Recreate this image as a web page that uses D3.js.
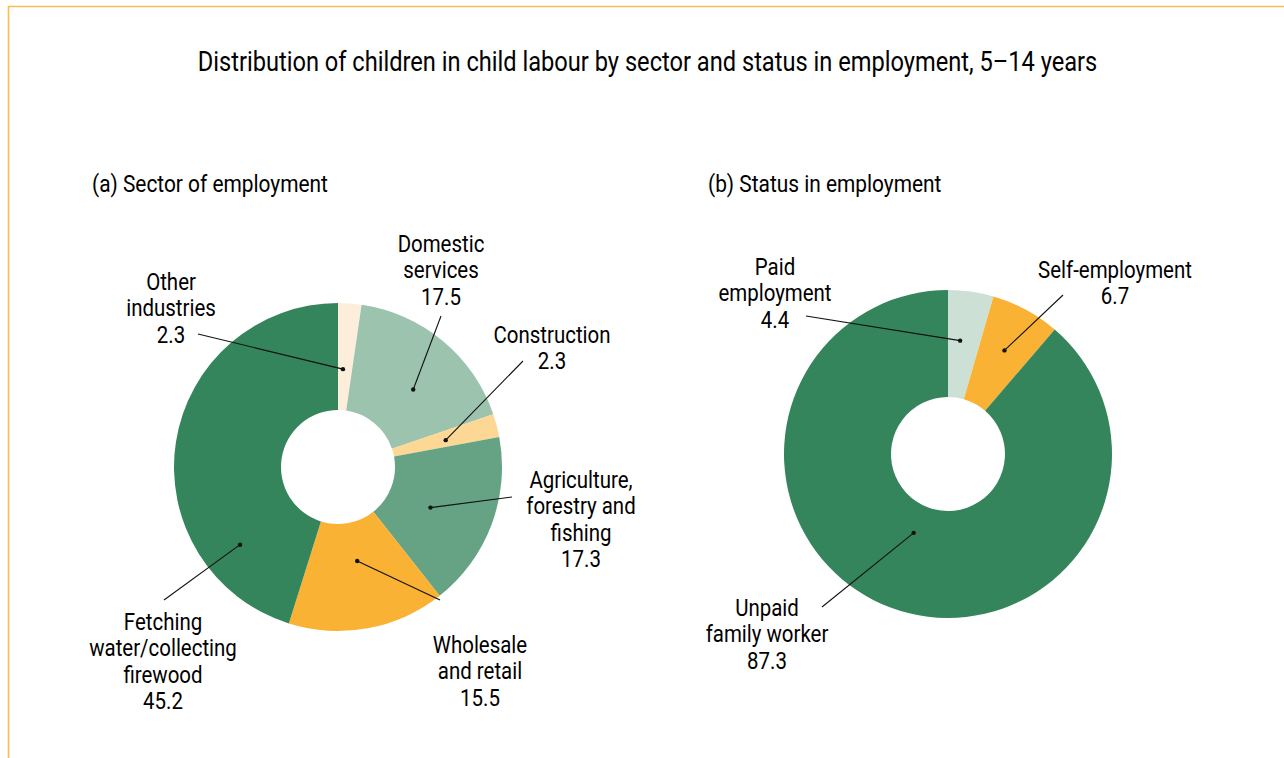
<!DOCTYPE html>
<html>
<head>
<meta charset="utf-8">
<script src="https://cdn.jsdelivr.net/npm/d3@7"></script>
<style>
  html, body { margin: 0; padding: 0; background: #fff; }
  svg { display: block; }
  text { font-family: Roboto, "Noto Sans", sans-serif; fill: #000; }
</style>
</head>
<body>
<svg id="chart" width="1284" height="758"></svg>
<script>
// ---- data -------------------------------------------------------------
const title = "Distribution of children in child labour by sector and status in employment, 5\u201314 years";

const sectorTitle = "(a) Sector of employment";
const sectorNames = [
  ["Other", "industries"],
  ["Domestic", "services"],
  ["Construction"],
  ["Agriculture,", "forestry and", "fishing"],
  ["Wholesale", "and retail"],
  ["Fetching", "water/collecting", "firewood"]
];
const sectorValues = [2.3, 17.5, 2.3, 17.3, 15.5, 45.2];
const sectorColors = ["#fdeedb", "#9cc3ae", "#fdd895", "#65a384", "#f9b233", "#35855c"];

const statusTitle = "(b) Status in employment";
const statusNames = [
  ["Paid", "employment"],
  ["Self-employment"],
  ["Unpaid", "family worker"]
];
const statusValues = [4.4, 6.7, 87.3];
const statusColors = ["#cde0d5", "#f9b233", "#35855c"];

// ---- layout -----------------------------------------------------------
const W = 1284, H = 758;
const SX = 0.87;          // horizontal squeeze to get a condensed face
const LINE = 26.4;        // label line spacing

// leader-line anchors: dot = [share of slice angle, radius];
// text = [centre x, first baseline y], from = start of the leader line
const sectorLayout = [
  { dot: [0.35, 98],  text: [171, 290], from: [198, 334] },
  { dot: [0.57, 108], text: [441, 252], from: [441, 316] },
  { dot: [0.58, 111], text: [552, 343], from: [523, 361] },
  { dot: [0.55, 101], text: [581, 488], from: [512, 497] },
  { dot: [0.48, 96],  text: [480, 653], from: [440, 600] },
  { dot: [0.21, 125], text: [163, 630], from: [164, 600] }
];
const statusLayout = [
  { dot: [0.38, 114], text: [775, 275], from: [806, 316] },
  { dot: [0.51, 118], text: [1115, 278], from: [1063, 295] },
  { dot: [0.51, 86],  text: [767, 616], from: [822, 607] }
];

const svg = d3.select("#chart");

// frame
svg.append("path")
  .attr("d", `M8.5,${H} V6.5 H${W}`)
  .attr("fill", "none")
  .attr("stroke", "#f9b233")
  .attr("stroke-opacity", 0.85)
  .attr("stroke-width", 1.6);

function condensedText(parent, x, y, lines, size, anchor, sx = SX) {
  const g = parent.append("g").attr("transform", `translate(${x},${y}) scale(${sx},1)`);
  const t = g.append("text")
    .attr("text-anchor", anchor)
    .style("font-size", size + "px");
  lines.forEach((s, i) => {
    t.append("tspan").attr("x", 0).attr("y", i * LINE).text(s);
  });
  return t;
}

// title and panel headings
condensedText(svg, 647.5, 71, [title], 27.5, "middle", 0.86);
condensedText(svg, 92, 192, [sectorTitle], 24, "start");
condensedText(svg, 708, 192, [statusTitle], 24, "start");

function donut(cx, cy, rOuter, rInner, values, colors, names, layout) {
  const g = svg.append("g").attr("transform", `translate(${cx},${cy})`);
  const pie = d3.pie().sort(null).value(d => d);
  const arcs = pie(values);
  const arc = d3.arc().innerRadius(rInner).outerRadius(rOuter);

  g.selectAll("path.slice")
    .data(arcs)
    .join("path")
    .attr("class", "slice")
    .attr("d", arc)
    .attr("fill", (d, i) => colors[i]);

  arcs.forEach((a, i) => {
    const L = layout[i];
    const ang = a.startAngle + (a.endAngle - a.startAngle) * L.dot[0];
    const dx = Math.sin(ang) * L.dot[1];
    const dy = -Math.cos(ang) * L.dot[1];
    g.append("line")
      .attr("x1", L.from[0] - cx).attr("y1", L.from[1] - cy)
      .attr("x2", dx).attr("y2", dy)
      .attr("stroke", "#111").attr("stroke-width", 1.1);
    g.append("circle")
      .attr("cx", dx).attr("cy", dy).attr("r", 2.2)
      .attr("fill", "#111");
    condensedText(svg, L.text[0], L.text[1],
      names[i].concat([d3.format(".1f")(values[i])]), 23.5, "middle");
  });
}

donut(338, 467, 164, 57, sectorValues, sectorColors, sectorNames, sectorLayout);
donut(948, 454, 164, 57, statusValues, statusColors, statusNames, statusLayout);
</script>
</body>
</html>
